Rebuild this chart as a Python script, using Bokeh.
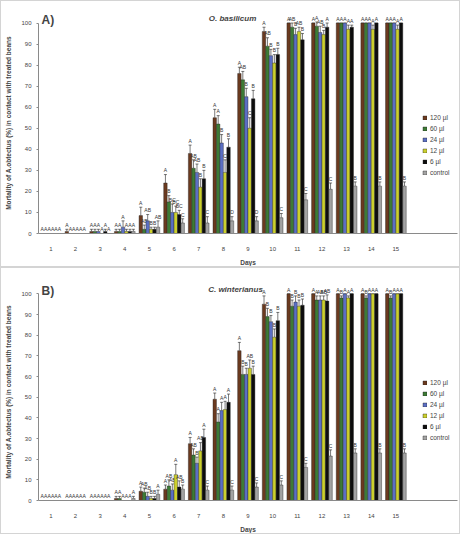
from bokeh.plotting import figure
from bokeh.layouts import column
from bokeh.models import (ColumnDataSource, Range1d, FactorRange, Whisker, TeeHead,
                          Label, Legend, LegendItem, FixedTicker)
from bokeh.transform import dodge
from bokeh.core.properties import value
from bokeh.embed import file_html
from bokeh.resources import INLINE

days = [str(d) for d in range(1, 16)]
series = ["120 µl", "60 µl", "24 µl", "12 µl", "6 µl", "control"]
colors = ["#6b3a1f", "#3d7b35", "#5b6fc4", "#cbd02d", "#0d0d0d", "#a3a3a3"]

# panel A - O. basilicum, mortality (%) per day
a120 = [0, 1, 1, 1, 8.5, 24, 38, 55, 76, 96, 100, 100, 100, 100, 100]
a60 = [0, 0, 1, 1, 2, 15, 31, 52, 73, 89, 98, 98.5, 100, 100, 100]
a24 = [0, 0, 1, 3, 6, 10, 29, 43, 65, 84.5, 94.5, 95.5, 100, 100, 100]
a12 = [0, 0, 0, 1, 2, 10, 22, 29, 50, 81, 96, 94.5, 97, 97, 97]
a6 = [0, 0, 1, 1, 2, 9, 26, 41, 64, 85, 92, 98, 98, 100, 100]
ac = [0, 0, 0, 1, 3, 5, 5, 6, 6, 7.5, 16, 21, 22.5, 22.5, 22.5]

ea120 = [0, 1, 1, 1, 4, 4, 4, 4, 3, 2, 0, 0, 0, 0, 0]
ea60 = [0, 0, 1, 1, 2, 3, 4, 4, 4, 4, 2, 2, 0, 0, 0]
ea24 = [0, 0, 1, 3, 3, 4, 4, 4, 4, 3, 3, 3, 0, 0, 0]
ea12 = [0, 0, 0, 1, 1, 3, 4, 6, 5, 4, 2, 2, 2, 2, 2]
ea6 = [0, 0, 1, 1, 1, 2, 4, 4, 4, 3, 3, 2, 1, 0, 0]
eac = [0, 0, 0, 1, 3, 2, 3, 2, 2, 2, 3, 3, 2, 2, 2]

la120 = ["A"] * 15
la60 = ["A", "A", "A", "A", "AB", "B", "AB", "A", "AB", "AB", "AB", "A", "A", "A", "A"]
la24 = ["A", "A", "A", "A", "AB", "BC", "AB", "B", "B", "B", "B", "AB", "A", "A", "A"]
la12 = ["A", "A", "A", "A", "B", "BC", "B", "C", "C", "B", "AB", "B", "A", "A", "A"]
la6 = ["A", "A", "A", "A", "B", "BC", "B", "B", "B", "B", "B", "A", "A", "A", "A"]
lac = ["A", "A", "A", "A", "AB", "C", "C", "D", "D", "C", "C", "C", "B", "B", "B"]

# panel B - C. winterianus
b120 = [0, 0, 0, 1, 4.5, 5.5, 27.5, 49, 72.5, 95, 100, 100, 100, 100, 100]
b60 = [0, 0, 0, 1, 4, 7, 22, 38, 61, 89, 94, 97, 98, 98, 98]
b24 = [0, 0, 0, 0, 2, 5, 18, 43.5, 61, 86.5, 96, 97, 100, 100, 100]
b12 = [0, 0, 0, 0, 1, 12.5, 24, 44, 64, 79, 94, 97, 98, 100, 100]
b6 = [0, 0, 0, 0, 1, 6.5, 30.5, 47.5, 61, 87, 94.5, 96.5, 100, 100, 100]
bc = [0, 0, 0, 1, 3, 5.5, 5, 5, 6.5, 7.5, 16, 21.5, 23, 23, 23]

eb120 = [0, 0, 0, 1, 2, 2, 3, 3, 4, 4, 0, 0, 0, 0, 0]
eb60 = [0, 0, 0, 1, 2, 3, 3, 4, 4, 4, 3, 2, 1, 1, 1]
eb24 = [0, 0, 0, 0, 2, 3, 3, 4, 3, 3, 3, 2, 0, 0, 0]
eb12 = [0, 0, 0, 0, 1, 5, 4, 4, 4, 4, 3, 2, 1, 0, 0]
eb6 = [0, 0, 0, 0, 1, 3, 4, 4, 4, 4, 3, 3, 0, 0, 0]
ebc = [0, 0, 0, 1, 2, 2, 2, 2, 2, 2, 2, 3, 2, 2, 2]

lb120 = ["A"] * 15
lb60 = ["A", "A", "A", "A", "AB", "AB", "AB", "A", "B", "B", "B", "A", "B", "B", "B"]
lb24 = ["A", "A", "A", "A", "AB", "AB", "B", "A", "B", "B", "B", "AB", "A", "A", "A"]
lb12 = ["A", "A", "A", "A", "B", "A", "AB", "A", "AB", "B", "B", "AB", "A", "A", "A"]
lb6 = ["A", "A", "A", "A", "B", "AB", "A", "A", "B", "B", "B", "AB", "A", "A", "A"]
lbc = ["A", "A", "A", "A", "A", "B", "C", "C", "C", "C", "C", "C", "B", "B", "B"]

FONT = "Liberation Sans"
offsets = [-0.35, -0.21, -0.07, 0.07, 0.21, 0.35]


def make_panel(tag, title, vals, errs, lets, top, bottom, title_x, leg_y):
    # two blank slots at the right end leave room for the legend inside the frame
    p = figure(width=460, height=267, x_range=FactorRange(factors=days + [" ", "  "]),
               y_range=Range1d(0, 105), output_backend="svg", toolbar_location=None,
               min_border_left=37, min_border_right=4, min_border_top=top, min_border_bottom=bottom)
    p.xgrid.visible = False
    p.ygrid.visible = False
    p.outline_line_color = None
    p.styles = {"border": "1px solid #d4d4d4", "box-sizing": "border-box"}

    items = []
    for i, name in enumerate(series):
        src = ColumnDataSource(dict(day=days, top=vals[i],
                                    up=[v + e for v, e in zip(vals[i], errs[i])],
                                    ly=[v + e + 0.6 for v, e in zip(vals[i], errs[i])],
                                    let=lets[i]))
        xs = dodge("day", offsets[i], range=p.x_range)
        r = p.vbar(x=xs, top="top", width=0.14, source=src, fill_color=colors[i],
                   line_color="#222222", line_width=0.4)
        w = Whisker(base=xs, upper="up", lower="top", source=src, line_color="#222222",
                    line_width=0.6, upper_head=TeeHead(size=3, line_color="#222222", line_width=0.6),
                    lower_head=None)
        p.add_layout(w)
        p.text(x=xs, y="ly", text="let", source=src, text_font=value(FONT),
               text_font_size="5px", text_align="center", text_baseline="bottom", text_color="#333333")
        items.append(LegendItem(label=name, renderers=[r]))

    leg = Legend(items=items, location=(384, leg_y), glyph_width=5, glyph_height=5,
                 label_height=8, label_text_font_size="6.5px", label_text_font=FONT,
                 label_standoff=3, spacing=3, padding=2, margin=0,
                 border_line_color=None, background_fill_alpha=0)
    p.add_layout(leg, "center")

    p.yaxis.bounds = (0, 100)
    p.yaxis.ticker = FixedTicker(ticks=list(range(0, 101, 10)))
    p.yaxis.minor_tick_line_color = None
    p.yaxis.major_tick_in = 0
    p.yaxis.major_tick_out = 2
    p.yaxis.major_label_text_font_size = "6px"
    p.yaxis.major_label_text_font = FONT
    p.yaxis.axis_label = "Mortality of A.obtectus (%) in contact with treated beans"
    p.yaxis.axis_label_text_font_size = "6.5px"
    p.yaxis.axis_label_text_font = FONT
    p.yaxis.axis_label_text_font_style = "bold"
    p.yaxis.axis_label_standoff = 6
    p.yaxis.axis_line_color = "#8a8a8a"
    p.yaxis.major_tick_line_color = "#8a8a8a"

    p.xaxis.axis_label = "Days"
    p.xaxis.axis_label_text_font_size = "6.5px"
    p.xaxis.axis_label_text_font = FONT
    p.xaxis.axis_label_text_font_style = "bold"
    p.xaxis.axis_label_standoff = 4
    p.xaxis.major_tick_line_color = None
    p.xaxis.major_label_text_font_size = "6px"
    p.xaxis.major_label_text_font = FONT
    p.xaxis.major_label_standoff = 6
    p.xaxis.axis_line_color = "#8a8a8a"

    p.add_layout(Label(x=3, y=105, x_units="screen", y_units="data", text=tag,
                       text_font=FONT, text_font_size="12px", text_font_style="bold",
                       text_baseline="top"))
    p.add_layout(Label(x=title_x, y=104.5, x_units="screen", y_units="data", text=title,
                       text_font=FONT, text_font_size="8px", text_font_style="bold italic",
                       text_align="center", text_baseline="top"))
    return p


pa = make_panel("A)", "O. basilicum", [a120, a60, a24, a12, a6, ac],
                [ea120, ea60, ea24, ea12, ea6, eac],
                [la120, la60, la24, la12, la6, lac], 11, 35, 194, 57)
pb = make_panel("B)", "C. winterianus", [b120, b60, b24, b12, b6, bc],
                [eb120, eb60, eb24, eb12, eb6, ebc],
                [lb120, lb60, lb24, lb12, lb6, lbc], 15, 29, 197, 59)

layout = column(pa, pb, spacing=0)
open("out.html", "w").write(file_html(layout, INLINE))
